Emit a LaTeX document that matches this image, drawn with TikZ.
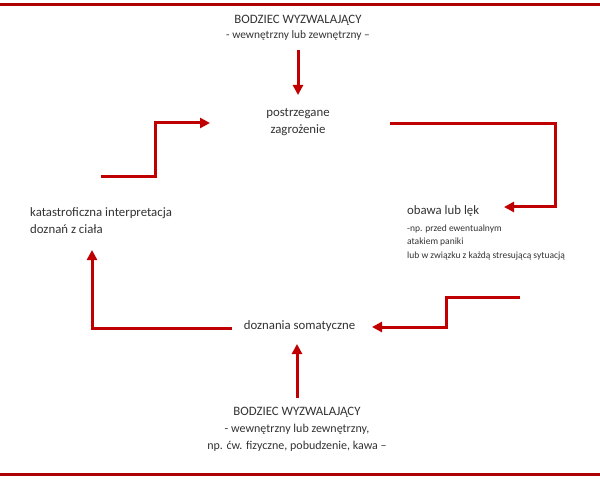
\documentclass[tikz,border=0pt]{standalone}
\usepackage{fontspec}
\setmainfont{Carlito}
\usetikzlibrary{arrows.meta}
\definecolor{arrred}{RGB}{192,0,0}
\definecolor{txtgray}{RGB}{50,50,50}
\tikzset{
  conn/.style={draw=arrred, line width=3bp, -{Triangle[length=10bp,width=10bp]}},
  rule/.style={draw=arrred!90!black, line width=2.8bp},
  lbl/.style={inner sep=0pt, text=txtgray, font=\fontsize{12.8bp}{17bp}\selectfont},
  sub/.style={inner sep=0pt, text=txtgray, font=\fontsize{11.4bp}{17bp}\selectfont},
  note/.style={inner sep=0pt, text=txtgray, font=\fontsize{9.5bp}{13.5bp}\selectfont}
}
\begin{document}
\begin{tikzpicture}[x=1bp,y=-1bp]
\useasboundingbox (0,0) rectangle (600,480);
% horizontal rules
\coordinate (tl) at (0,4.7);
\coordinate (tr) at (600,4.7);
\coordinate (bl) at (0,474.7);
\coordinate (br) at (600,474.7);
\draw[rule] (tl) -- (tr);
\draw[rule] (bl) -- (br);
% texts
\node[lbl] (trig1) at (298,20) {BODZIEC WYZWALAJĄCY};
\node[sub] (trig1s) at (298,35) {- wewnętrzny lub zewnętrzny –};
\node[lbl, align=center] (threat) at (298,122.5) {postrzegane\\zagrożenie};
\node[lbl, align=left, anchor=west] (catas) at (30,220.5) {katastroficzna interpretacja\\doznań z ciała};
\node[lbl, anchor=west] (fear) at (407,211) {obawa lub lęk};
\node[note, align=left, anchor=west] (fearnote) at (407,242.5) {-np. przed ewentualnym\\atakiem paniki\\lub w związku z każdą stresującą sytuacją};
\node[lbl] (soma) at (299.5,326) {doznania somatyczne};
\node[lbl, align=center] (trig2) at (297,429.5) {BODZIEC WYZWALAJĄCY\\\fontsize{12bp}{17bp}\selectfont - wewnętrzny lub zewnętrzny,\\\fontsize{12bp}{17bp}\selectfont np. ćw. fizyczne, pobudzenie, kawa –};
% connector points
\coordinate (a1s) at (298,50);
\coordinate (a1e) at (298,95);
\coordinate (a2s) at (297,398);
\coordinate (a2e) at (297,344);
\coordinate (c1s) at (101,177);
\coordinate (c1e) at (210,123);
\coordinate (c2s) at (390,124);
\coordinate (c2e) at (504,207);
\coordinate (c3s) at (520,297);
\coordinate (c3e) at (372,327);
\coordinate (c4s) at (232,328);
\coordinate (c4e) at (92,250);
% connectors
\draw[conn] (a1s) -- (a1e);
\draw[conn] (a2s) -- (a2e);
\draw[conn] (c1s) -- (155,177) -- (155,123) -- (c1e);
\draw[conn] (c2s) -- (555,124) -- (555,207) -- (c2e);
\draw[conn] (c3s) -- (446,297) -- (446,327) -- (c3e);
\draw[conn] (c4s) -- (92,328) -- (c4e);
\end{tikzpicture}
\end{document}
